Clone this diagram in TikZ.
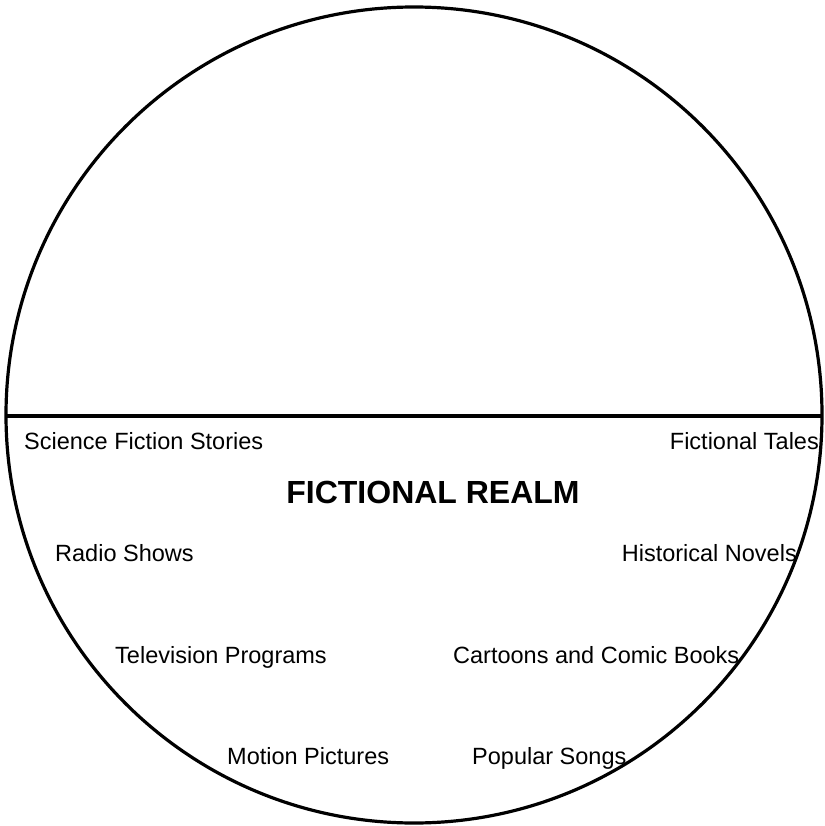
\documentclass[tikz,border=0pt]{standalone}
\usepackage{fontspec}
\setmainfont{Liberation Sans}
\usepackage{tikz}
\usetikzlibrary{positioning}

\begin{document}
\begin{tikzpicture}[
      x=1pt, y=-1pt,
      item/.style={font=\fontsize{23.5}{28}\selectfont, inner sep=0pt},
      realm/.style={font=\fontsize{32}{38}\selectfont\bfseries, inner sep=0pt},
      rim/.style={line width=3.2pt}
    ]
    \useasboundingbox (0,0) rectangle (824,826);

    % the realm circle and its dividing line
    \draw[rim] (414,415) circle[radius=408];
    \coordinate (divl) at (6,416);
    \coordinate (divr) at (822,416);
    \draw[rim] (divl) -- (divr);

    \node[realm, anchor=base] (realm) at (433,503) {FICTIONAL REALM};

    \node[item, anchor=base west] (scifi) at (24,449) {Science Fiction Stories};
    \node[item, anchor=base east] (tales) at (819,449) {Fictional Tales};
    \node[item, anchor=base west] (radio) at (55,561) {Radio Shows};
    \node[item, anchor=base east] (novels) at (797,561) {Historical Novels};
    \node[item, anchor=base west] (tv) at (115,663) {Television Programs};
    \node[item, anchor=base west] (comics) at (453,663) {Cartoons and Comic Books};
    \node[item, anchor=base west] (movies) at (227,764) {Motion Pictures};
    \node[item, anchor=base west] (songs) at (472,764) {Popular Songs};
  \end{tikzpicture}
\end{document}
